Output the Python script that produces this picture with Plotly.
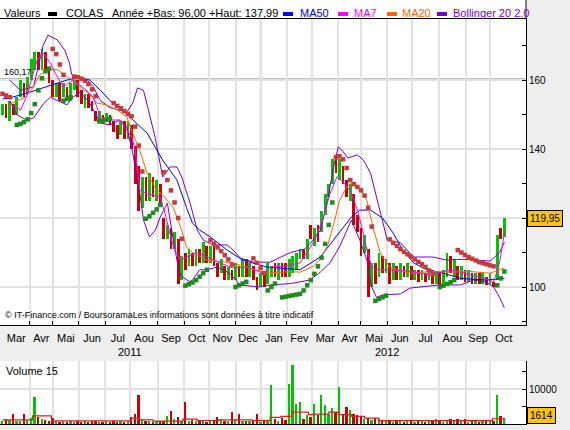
import plotly.graph_objects as go

FONT = "Liberation Sans, Arial, sans-serif"

# ---------------- data ----------------
# x unit = trading day counted from 1 Mar 2011
candle_day = list(range(0, 421, 3))
opens = [150, 153, 148, 153, 150, 155, 159, 156, 160, 163,
         168, 163, 168, 163, 160, 155, 159, 155, 158, 154,
         157, 160, 157, 152, 156, 154, 151, 148, 150, 148,
         150, 148, 147, 144, 148, 143, 147, 141, 135, 123,
         132, 125, 132, 125, 130, 120, 114, 117, 111, 114,
         102, 110, 106, 110, 106, 111, 107, 112, 107, 112,
         107, 104, 106, 102, 105, 102, 106, 103, 108, 103,
         106, 103, 100, 104, 101, 103, 107, 102, 107, 107,
         103, 104, 105, 108, 111, 108, 118, 112, 118, 116,
         121, 126, 130, 138, 131, 135, 131, 125, 127, 121,
         117, 110, 111, 100, 107, 103, 109, 104, 107, 102,
         106, 102, 106, 103, 106, 102, 105, 102, 104, 102,
         105, 101, 104, 101, 103, 109, 103, 106, 102, 105,
         101.5, 104, 101, 104, 101, 103, 101, 101.5, 102, 117,
         114.5]
closes = [153, 149, 154, 150, 155, 160, 155, 161, 166, 168,
          163, 169, 163, 159, 155, 159, 154, 159, 154, 159,
          160, 155, 153, 156, 152, 151, 148, 151, 148, 150.5,
          147, 145, 143, 148, 143, 148, 140, 130, 122, 132,
          125, 133, 126, 131, 124, 114, 118, 111, 116, 101,
          109, 105, 111, 106, 111, 107, 113, 107, 112, 106,
          103, 108, 102, 105.8, 102, 107, 103, 108, 103, 107,
          102, 99, 104, 100, 107, 106, 103, 107, 103, 103,
          108, 109, 110, 111, 108, 114, 114, 117, 113, 122,
          127, 130, 137, 133, 137, 130, 126, 130, 118, 116,
          109, 115, 97, 107, 101, 110, 104, 108, 101, 107,
          102, 107, 103, 107, 102, 105, 101.5, 105, 101.5, 105,
          101, 104.5, 100.5, 105, 110, 104, 108, 102, 106, 101.5,
          105, 101, 104, 101, 104, 100.5, 104, 100, 115, 114,
          119.95]
volumes = [800, 1500, 1200, 3000, 900, 1000, 3000, 1200, 1800, 7600,
           2000, 1500, 1200, 900, 1700, 800, 700, 900, 600, 800,
           700, 1000, 600, 800, 700, 900, 800, 700, 600, 800,
           700, 900, 600, 800, 700, 900, 2000, 3000, 8400, 1500,
           1000, 800, 700, 900, 800, 1000, 2200, 3800, 1500, 2000,
           1000, 6400, 900, 1200, 1000, 800, 900, 700, 1000, 1200,
           1900, 1500, 1000, 800, 3500, 1200, 3000, 900, 800, 1000,
           900, 3000, 700, 900, 1200, 11200, 1500, 1000, 1800, 1200,
           11500, 16900, 5800, 6200, 1500, 2500, 2000, 5700, 2500, 8400,
           5500, 3000, 4700, 3500, 10500, 2500, 4750, 4000, 3000, 2500,
           2000, 1500, 1800, 1200, 1800, 1500, 1000, 900, 800, 700,
           900, 800, 700, 900, 800, 700, 1000, 800, 700, 900,
           800, 1500, 800, 700, 1000, 1500, 900, 1500, 800, 1500,
           700, 900, 800, 700, 900, 1100, 800, 1000, 8400, 2200,
           1614]

vol_ma_day = [0, 25, 41, 108, 114, 126, 151, 163, 181, 209, 224, 233, 242,
              256, 261, 273, 282, 292, 303, 315, 410, 421]
vol_ma = [1200, 2300, 900, 1700, 1200, 800, 1400, 1000, 1200, 950, 1900, 2200,
          3400, 2700, 2850, 3400, 2700, 2200, 1700, 950, 1500, 1500]

ma50_day = [0, 6, 23, 40, 54, 65, 73, 82, 90, 98, 109, 121, 134, 146, 154, 159,
            165, 174, 188, 201, 221, 249, 266, 277, 285, 292, 299, 308, 318,
            327, 335, 344, 355, 369, 383, 405, 420]
ma50 = [154.5, 154.8, 156.5, 158.5, 160, 160.6, 160, 157, 154, 152, 148.4,
        144.6, 136.8, 131, 123, 118.5, 116.5, 114.5, 110.7, 107.8, 105.8, 105,
        108.7, 113.6, 117.4, 120.3, 122.3, 122.3, 120, 115.6, 110.7, 107, 105,
        104, 102.5, 102, 102.5]

ma20_day = [6, 19, 26, 31, 40, 46, 54, 62, 71, 79, 87, 96, 104, 109, 115, 121,
            129, 134, 143, 149, 154, 159, 171, 193, 221, 241, 249, 260, 266,
            272, 277, 282, 288, 293, 299, 305, 310, 316, 324, 341, 358, 375,
            391, 408, 420]
ma20 = [153, 155, 158, 161.5, 163, 163, 161, 159, 156.5, 153.3, 152.8, 151.3,
        149.3, 144.6, 139.5, 133, 128, 126.7, 123, 117.4, 111.6, 110, 107.8,
        107, 104, 104.5, 104.3, 106, 108, 112, 118, 125, 129, 130.4, 128.7,
        125, 117.4, 110, 105.8, 104, 104.5, 104.3, 104.5, 104, 105.5]

ma7_day = [6, 15, 20, 25, 29, 34, 40, 44, 51, 59, 67, 76, 82, 90, 98, 104, 108,
           111, 113, 115, 121, 126, 132, 136, 140, 144, 149, 154, 163, 171,
           182, 193, 205, 218, 224, 236, 249, 260, 268, 274, 280, 285, 291,
           297, 302, 305, 309, 313, 324, 341, 358, 375, 391, 404, 411, 416, 420]
ma7 = [153.3, 151.3, 155, 161, 165.8, 167.8, 165, 162, 158, 160, 158, 155,
       149.3, 148.4, 148.4, 145.5, 143.5, 140, 133, 128, 127, 126.7, 126,
       121.4, 115.6, 110.7, 107.8, 108.7, 110, 108.7, 107, 105.5, 105.8, 104,
       105.8, 106, 107, 112.8, 119.4, 127, 132, 130.4, 128, 122.3, 115.6,
       110.7, 105.8, 105, 105, 104.5, 103.5, 105, 103.5, 102.5, 101.5, 107,
       115.6]

bb_up_day = [6, 15, 26, 34, 38, 46, 52, 56, 58, 71, 76, 82, 90, 104, 109, 113,
             118, 123, 128, 134, 140, 146, 150, 157, 163, 168, 176, 188, 193,
             199, 210, 224, 241, 253, 260, 266, 272, 277, 281, 284, 289, 297,
             302, 308, 313, 318, 322, 333, 339, 344, 360, 372, 380, 391, 408,
             416, 420]
bb_up = [160, 157, 158, 170, 173, 171.6, 168.7, 165, 161.5, 160, 158, 154, 152,
         150.7, 153.3, 157.7, 157, 150.4, 143, 131.9, 134.8, 134.8, 131.9,
         124.3, 116.5, 113.6, 112.2, 112.2, 110.7, 108.4, 107.2, 107.2, 110,
         111, 113.6, 116.5, 125, 134.8, 140.6, 139.7, 137.4, 138.3, 136.8, 133,
         126, 118.5, 113.6, 112.8, 110.7, 108.7, 108.7, 107.8, 108, 108, 107.5,
         110, 113]

bb_lo_day = [6, 12, 20, 26, 34, 40, 46, 54, 58, 65, 73, 82, 90, 98, 104, 109,
             115, 118, 123, 128, 132, 138, 143, 147, 150, 157, 159, 165, 171,
             180, 190, 199, 215, 224, 241, 249, 257, 266, 274, 282, 288, 292,
             299, 305, 309, 313, 318, 333, 341, 349, 366, 383, 394, 405, 411,
             416, 420]
bb_lo = [154, 150, 148.4, 149, 153, 155, 154, 152.8, 154.8, 156.5, 153.3,
         147.5, 147, 148.4, 146.4, 138.8, 127, 119.4, 114.5, 116.5, 120.3,
         124.3, 113.6, 105.8, 103, 101.5, 102, 105, 105, 105.8, 104, 100.6,
         100, 100.6, 101, 101.5, 102, 104.3, 107, 111.6, 116.5, 119.4, 113.6,
         107.8, 100, 97, 97.7, 98, 99.7, 100, 100.6, 100.6, 102, 101.4, 100, 97,
         94]

sar_up_day = [12, 15, 18, 21, 24, 27, 30, 33, 36, 39, 51, 54, 57, 81, 84, 87, 90,
              120, 123, 126, 129, 132, 153, 156, 159, 162, 165, 168, 171,
              195, 198, 201, 204, 222, 225, 228, 234, 237, 240, 243, 246, 249,
              252, 255, 258, 261, 264, 267, 270, 273, 276, 312, 315, 318, 321,
              366, 369, 372, 375, 378, 414, 417, 420]
sar_up = [147, 147.3, 147.8, 148.6, 150.4, 153, 157, 160.5, 162.5, 163.3,
          154, 154.5, 155, 148, 148.2, 148.5, 148.8,
          119.8, 120.5, 121.5, 122.5, 123.8,
          100.4, 100.8, 101.3, 102, 103, 104, 105,
          100, 100.5, 101, 101.5, 99, 100, 101,
          97, 97.2, 97.4, 97.6, 97.8, 98, 99, 100.5, 102, 103.8, 106, 108.5,
          112.5, 118, 124.5, 96, 96.5, 97, 97.5,
          100, 100.4, 100.9, 101.4, 102, 100.5, 102.5, 104.5]

sar_dn_day = [0, 3, 6, 42, 45, 48, 51, 60, 63, 66, 69, 72, 75, 78,
              93, 96, 99, 102, 105, 108, 111, 114, 117,
              135, 138, 141, 144, 147, 150, 174, 177, 180, 183, 186, 189, 192,
              210, 213, 216, 219, 279, 282, 285, 288, 291, 294, 297, 300, 303,
              306, 309, 324, 327, 330, 333, 336, 339, 342, 345, 348, 351, 354,
              357, 360, 381, 384, 387, 390, 393, 396, 399, 402, 405, 408, 411]
sar_dn = [156, 155.5, 155, 169, 167.5, 164.5, 161.5,
          161, 160.8, 160.4, 159.8, 158.8, 157.3, 155.3,
          153.3, 152.5, 151.8, 151, 150.2, 149.5, 146.5, 141, 133.5,
          133.3, 131, 128, 124.5, 120, 114,
          113.6, 112.6, 111.5, 110.4, 109.2, 108, 106.5,
          108.3, 107, 105.5, 104,
          137.7, 137.9, 137, 134.5, 131, 129.8, 129, 128, 126.5, 123, 117.5,
          113.8, 112.8, 111.9, 111, 110.2, 109.5, 108.8, 108, 107.3, 106.6,
          105.8, 104.8, 103.7,
          110.7, 110, 109.3, 108.7, 108.2, 107.7, 107.2, 106.9, 106.6, 106.3, 106]

month_bounds = [0, 23, 42, 64, 86, 107, 130, 152, 173, 195, 216, 238, 259, 281,
                300, 322, 343, 365, 388, 408, 431]
month_names = ["Mar", "Avr", "Mai", "Jun", "Jul", "Aou", "Sep", "Oct", "Nov",
               "Dec", "Jan", "Fev", "Mar", "Avr", "Mai", "Jun", "Jul", "Aou",
               "Sep", "Oct"]
year_labels = ["2011", "2012"]
year_centers = [107, 322]
price_ticks = [100, 120, 140, 160]
price_tick_text = ["100", "", "140", "160"]   # 120 is hidden behind the last-price box
price_minor = [90, 110, 130, 150, 170]
ref_level = 160.17
last_price = 119.95
last_volume = 1614

# ---------------- styling ----------------
GREEN = "#00C400"
RED = "#CC0000"
SAR_GREEN = "#1D8C1D"
SAR_RED = "#C83A3A"
GRID = "#E2E2E2"
XR = [-2.09, 438.1]

month_mid = [(month_bounds[i] + month_bounds[i + 1]) / 2 for i in range(len(month_names))]
up = [c >= o for o, c in zip(opens, closes)]
ccol = [GREEN if u else RED for u in up]

fig = go.Figure()
fig.add_trace(go.Bar(x=candle_day, base=[min(o, c) for o, c in zip(opens, closes)],
                     y=[abs(c - o) for o, c in zip(opens, closes)],
                     marker=dict(color=ccol, line=dict(width=0)), width=2.3,
                     xaxis="x", yaxis="y", hoverinfo="skip"))
for xs, ys, col in [(bb_up_day, bb_up, "#7A00C8"), (bb_lo_day, bb_lo, "#7A00C8"),
                    (ma50_day, ma50, "#0000FF"), (ma20_day, ma20, "#FF6600"),
                    (ma7_day, ma7, "#FF00FF")]:
    fig.add_trace(go.Scatter(x=xs, y=ys, mode="lines", line=dict(color=col, width=1),
                             xaxis="x", yaxis="y", hoverinfo="skip"))
fig.add_trace(go.Scatter(x=sar_up_day, y=sar_up, mode="markers",
                         marker=dict(symbol="square", size=4.5, color=SAR_GREEN, line=dict(width=0)),
                         xaxis="x", yaxis="y"))
fig.add_trace(go.Scatter(x=sar_dn_day, y=sar_dn, mode="markers",
                         marker=dict(symbol="square", size=4.5, color=SAR_RED, line=dict(width=0)),
                         xaxis="x", yaxis="y"))
fig.add_trace(go.Bar(x=candle_day, y=volumes, marker=dict(color=ccol, line=dict(width=0)),
                     width=1.5, xaxis="x2", yaxis="y2", hoverinfo="skip"))
fig.add_trace(go.Scatter(x=vol_ma_day, y=vol_ma, mode="lines", line=dict(color="#D42020", width=1.2, shape="hv"),
                         xaxis="x2", yaxis="y2", hoverinfo="skip"))

PW, H = 526.0, 430.0
def PX(x):
    return x / PW
def PY(y):
    return 1 - y / H

minor_x = dict(tickvals=month_bounds[1:-1], showgrid=True, gridcolor=GRID, gridwidth=2,
               ticks="inside", ticklen=4, tickcolor="black")

fig.update_layout(
    width=570, height=430, margin=dict(l=0, r=44, t=0, b=0),
    paper_bgcolor="#EEEEEE", plot_bgcolor="white", showlegend=False,
    barmode="overlay", bargap=0,
    font=dict(family=FONT, size=10, color="black"),
    xaxis=dict(domain=[0, 1], range=XR, anchor="y", tickmode="array",
               tickvals=month_mid, ticktext=month_names, ticks="", showgrid=False,
               tickfont=dict(size=11), ticklabelstandoff=3,
               minor=minor_x, showline=True, linecolor="black", linewidth=1,
               mirror=True, zeroline=False),
    yaxis=dict(domain=[PY(325), PY(19)], range=[88.99, 177.68], side="right", anchor="x",
               tickmode="array", tickvals=price_ticks, ticktext=price_tick_text,
               ticks="inside", ticklen=4, tickcolor="black", showgrid=True,
               gridcolor=GRID, gridwidth=2, tickfont=dict(size=10),
               minor=dict(tickvals=price_minor, ticks="inside", ticklen=4, tickcolor="black", showgrid=False),
               showline=True, linecolor="black", linewidth=1, zeroline=False),
    xaxis2=dict(domain=[0, 1], range=XR, anchor="y2", showticklabels=False, ticks="",
                showgrid=False, minor=dict(tickvals=month_bounds[1:-1], showgrid=True,
                                            gridcolor=GRID, gridwidth=2),
                showline=True, linecolor="black", linewidth=1, zeroline=False),
    yaxis2=dict(domain=[PY(424), PY(361)], range=[0, 18000], side="right", anchor="x2",
                tickmode="array", tickvals=[10000], ticktext=["10000"], ticks="inside",
                ticklen=4, tickcolor="black", showgrid=True, gridcolor=GRID, gridwidth=2,
                tickfont=dict(size=10),
                minor=dict(tickvals=[5000, 15000], ticks="inside", ticklen=4, tickcolor="black", showgrid=False),
                showline=True, linecolor="black", linewidth=1, zeroline=False),
)

shapes = [
    dict(type="rect", xref="paper", yref="paper", x0=0, x1=PX(527), y0=PY(19), y1=1,
         fillcolor="white", line=dict(width=0), layer="below"),
    dict(type="line", xref="paper", yref="paper", x0=1, x1=1, y0=PY(19), y1=1,
         line=dict(color="black", width=1)),
    dict(type="line", xref="x", yref="y domain", x0=month_bounds[10], x1=month_bounds[10], y0=0, y1=1,
         line=dict(color="#999999", width=1.5), layer="below"),
    dict(type="line", xref="x2", yref="y2 domain", x0=month_bounds[10], x1=month_bounds[10], y0=0, y1=1,
         line=dict(color="#999999", width=1.5), layer="below"),
    dict(type="line", xref="x domain", yref="y", x0=0, x1=1, y0=ref_level, y1=ref_level,
         line=dict(color="black", width=1.5), layer="below"),
]
legend_boxes = [(48, 57, "black"), (283, 293, "#0000FF"), (338, 348, "#FF00FF"),
                (387, 397, "#FF6600"), (437, 447, "#7A00C8")]
for x0, x1, col in legend_boxes:
    shapes.append(dict(type="rect", xref="paper", yref="paper", x0=PX(x0), x1=PX(x1),
                       y0=PY(16), y1=PY(12), fillcolor=col, line=dict(width=0)))
fig.update_layout(shapes=shapes)

ann = []
def text(x, y, s, size=11, color="black", xanchor="left", **kw):
    ann.append(dict(x=PX(x), y=PY(y), xref="paper", yref="paper", text=s, showarrow=False,
                    xanchor=xanchor, yanchor="middle", font=dict(family=FONT, size=size, color=color), **kw))

text(2, 13, "Valeurs")
text(64, 13, "COLAS")
text(110, 13, "Année +Bas: 96,00 +Haut: 137,99")
text(298, 13, "MA50", color="#0000FF")
text(352, 13, "MA7", color="#FF00FF")
text(400, 13, "MA20", color="#FF6600")
text(451, 13, "Bollinger 20 2.0", color="#7A00C8")
text(3, 315, "© IT-Finance.com / BoursoramaLes informations sont données à titre indicatif", size=9)
text(4, 371, "Volume 15")
for lab, c in zip(year_labels, year_centers):
    ann.append(dict(x=c, y=PY(352), xref="x", yref="paper", text=lab, showarrow=False,
                    xanchor="center", yanchor="middle", font=dict(family=FONT, size=11)))
text(2, 72, "160,17", size=9)
ann.append(dict(x=PX(527), y=last_price, xref="paper", yref="y", text="119,95", showarrow=False,
                xanchor="left", yanchor="middle", bgcolor="#FFC20E", bordercolor="black",
                borderwidth=1, borderpad=2, font=dict(family=FONT, size=10)))
ann.append(dict(x=PX(527), y=PY(415), xref="paper", yref="paper", text=str(last_volume), showarrow=False,
                xanchor="left", yanchor="middle", bgcolor="#FFC20E", bordercolor="black",
                borderwidth=1, borderpad=2, font=dict(family=FONT, size=10)))
fig.update_layout(annotations=ann)

fig.write_html("out.html")
